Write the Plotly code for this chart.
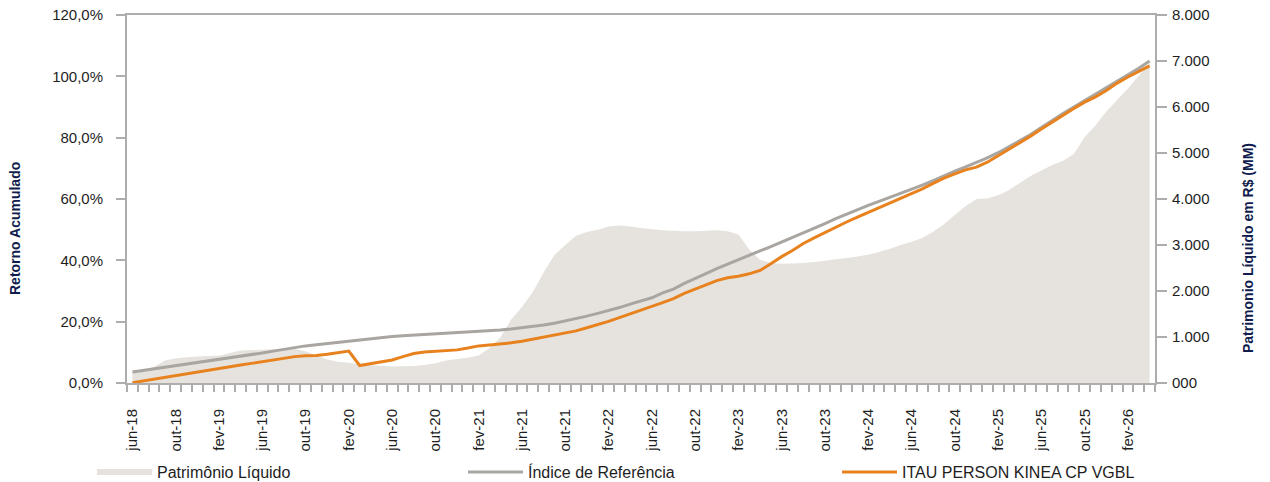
import plotly.graph_objects as go

months = [
    "jun-18", "jul-18", "ago-18", "set-18", "out-18", "nov-18", "dez-18",
    "jan-19", "fev-19", "mar-19", "abr-19", "mai-19", "jun-19", "jul-19", "ago-19", "set-19", "out-19", "nov-19", "dez-19",
    "jan-20", "fev-20", "mar-20", "abr-20", "mai-20", "jun-20", "jul-20", "ago-20", "set-20", "out-20", "nov-20", "dez-20",
    "jan-21", "fev-21", "mar-21", "abr-21", "mai-21", "jun-21", "jul-21", "ago-21", "set-21", "out-21", "nov-21", "dez-21",
    "jan-22", "fev-22", "mar-22", "abr-22", "mai-22", "jun-22", "jul-22", "ago-22", "set-22", "out-22", "nov-22", "dez-22",
    "jan-23", "fev-23", "mar-23", "abr-23", "mai-23", "jun-23", "jul-23", "ago-23", "set-23", "out-23", "nov-23", "dez-23",
    "jan-24", "fev-24", "mar-24", "abr-24", "mai-24", "jun-24", "jul-24", "ago-24", "set-24", "out-24", "nov-24", "dez-24",
    "jan-25", "fev-25", "mar-25", "abr-25", "mai-25", "jun-25", "jul-25", "ago-25", "set-25", "out-25", "nov-25", "dez-25",
    "jan-26", "fev-26", "mar-26", "abr-26",
]

tick_labels = [
    "jun-18", "out-18", "fev-19", "jun-19", "out-19", "fev-20", "jun-20", "out-20",
    "fev-21", "jun-21", "out-21", "fev-22", "jun-22", "out-22", "fev-23", "jun-23",
    "out-23", "fev-24", "jun-24", "out-24", "fev-25", "jun-25", "out-25", "fev-26",
]

# Patrimônio Líquido (R$ MM)
patrimonio = [
    220, 280, 350, 490, 540, 560, 575, 585, 595, 650,
    705, 715, 725, 735, 740, 738, 690, 600, 510, 460,
    440, 400, 385, 375, 360, 365, 370, 390, 430, 490,
    520, 550, 600, 760, 990, 1380, 1650, 1980, 2400, 2780,
    3000, 3200, 3280, 3330, 3400, 3425, 3400, 3370, 3340, 3320,
    3310, 3300, 3300, 3310, 3320, 3300, 3230, 2900, 2680, 2610,
    2595, 2600, 2610, 2630, 2660, 2690, 2720, 2750, 2790, 2850,
    2920, 3000, 3070, 3150, 3290, 3450, 3650, 3850, 4000, 4010,
    4080, 4190, 4350, 4500, 4620, 4740, 4830, 4980, 5350, 5600,
    5900, 6150, 6400, 6680, 6950,
]

# Índice de Referência (retorno acumulado, %)
indice = [
    3.6, 4.1, 4.6, 5.1, 5.6, 6.1, 6.6, 7.1, 7.6, 8.1,
    8.7, 9.2, 9.8, 10.4, 11.0, 11.6, 12.1, 12.5, 12.9, 13.3,
    13.8, 14.2, 14.5, 14.9, 15.2, 15.4, 15.6, 15.8, 16.0, 16.1,
    16.3, 16.5, 16.7, 17.0, 17.3, 17.6, 18.0, 18.4, 18.9, 19.5,
    20.2, 20.9, 21.8, 22.7, 23.6, 24.6, 25.7, 26.8, 27.8, 29.4,
    30.6, 32.5, 34.0, 35.7, 37.3, 38.8, 40.2, 41.6, 43.1, 44.5,
    46.0, 47.4, 48.8, 50.4, 52.0, 53.6, 55.1, 56.6, 57.9, 59.2,
    60.5, 61.8, 63.0, 64.5, 66.0, 67.6, 69.1, 70.5, 71.9, 73.4,
    75.1, 77.0, 79.0, 81.0, 83.3, 85.7, 87.9, 90.0, 92.1, 94.2,
    96.4, 98.6, 100.5, 102.6, 105.0,
]

# ITAU PERSON KINEA CP VGBL (retorno acumulado, %)
fundo = [
    0.1, 0.7, 1.3, 1.9, 2.5, 3.0, 3.6, 4.2, 4.7, 5.3,
    5.9, 6.4, 7.0, 7.5, 8.0, 8.6, 8.9, 9.0, 9.4, 9.9,
    10.4, 5.7, 6.3, 7.0, 7.5, 8.6, 9.6, 10.1, 10.4, 10.6,
    10.8, 11.4, 12.1, 12.4, 12.7, 13.1, 13.6, 14.3, 14.9, 15.6,
    16.2, 17.0, 18.0, 19.0, 20.1, 21.3, 22.5, 23.6, 24.8, 26.2,
    27.5, 29.2, 30.6, 32.0, 33.4, 34.3, 34.8, 35.6, 36.7, 38.9,
    41.2, 43.2, 45.5, 47.3, 49.1, 50.8, 52.5, 54.1, 55.6, 57.2,
    58.7, 60.2, 61.7, 63.3, 65.1, 66.8, 68.2, 69.5, 70.4, 72.0,
    74.1, 76.2, 78.4, 80.5, 82.8, 85.1, 87.3, 89.5, 91.6, 93.3,
    95.4, 97.8, 99.8, 101.6, 103.4,
]

pct_ticks = [0, 20, 40, 60, 80, 100, 120]
pct_tick_text = ["0,0%", "20,0%", "40,0%", "60,0%", "80,0%", "100,0%", "120,0%"]
pl_ticks = [0, 1000, 2000, 3000, 4000, 5000, 6000, 7000, 8000]
pl_tick_text = ["000", "1.000", "2.000", "3.000", "4.000", "5.000", "6.000", "7.000", "8.000"]

FONT = "Arial, Liberation Sans, sans-serif"
AXIS = "#adadad"
NAVY = "#0f1c4d"
TXT = "#1e1e1e"

W, H = 1270, 482
ML, MR, MT, MB = 127, 115, 15, 99
PW, PH = W - ML - MR, H - MT - MB

x = list(range(len(months)))
label_pos = [months.index(t) for t in tick_labels]

fig = go.Figure()
fig.add_trace(go.Scatter(
    x=x, y=patrimonio, customdata=months, yaxis="y", mode="none",
    fill="tozeroy", fillcolor="#e6e3de", name="Patrimônio Líquido",
    legend="legend", hovertemplate="%{customdata}: %{y}<extra></extra>",
))
fig.add_trace(go.Scatter(
    x=x, y=indice, customdata=months, yaxis="y2", mode="lines",
    line=dict(color="#a9a6a1", width=3), name="Índice de Referência",
    legend="legend2", hovertemplate="%{customdata}: %{y}%<extra></extra>",
))
fig.add_trace(go.Scatter(
    x=x, y=fundo, customdata=months, yaxis="y2", mode="lines",
    line=dict(color="#e8821e", width=3), name="ITAU PERSON KINEA CP VGBL",
    legend="legend3", hovertemplate="%{customdata}: %{y}%<extra></extra>",
))

leg_common = dict(orientation="h", yanchor="middle", xanchor="left",
                  xref="container", yref="container",
                  font=dict(family=FONT, size=16, color=TXT),
                  bgcolor="rgba(0,0,0,0)", itemwidth=55)
leg_y = (H - 472) / H

fig.update_layout(
    width=W, height=H,
    margin=dict(l=ML, r=MR, t=MT, b=MB, autoexpand=False),
    paper_bgcolor="white", plot_bgcolor="white",
    font=dict(family=FONT, size=15, color=TXT),
    showlegend=True,
    legend=dict(x=92 / W, y=leg_y, **leg_common),
    legend2=dict(x=463 / W, y=leg_y, **leg_common),
    legend3=dict(x=837 / W, y=leg_y, **leg_common),
    xaxis=dict(
        range=[-0.5, len(months) - 0.5], automargin=False,
        tickmode="array", tickvals=label_pos, ticktext=tick_labels,
        tickangle=-90, ticks="", ticklabelstandoff=18,
        tickfont=dict(family=FONT, size=15, color=TXT),
        minor=dict(tick0=-0.5, dtick=1, ticks="outside", ticklen=7,
                   tickcolor=AXIS, tickwidth=1.5, showgrid=False),
        showline=True, linecolor=AXIS, linewidth=2, mirror=True,
        showgrid=False, zeroline=False,
    ),
    yaxis=dict(
        range=[0, 8000], side="right", automargin=False,
        tickmode="array", tickvals=pl_ticks, ticktext=pl_tick_text,
        ticks="outside", ticklen=10, tickcolor=AXIS, tickwidth=1.5,
        ticklabelstandoff=2,
        tickfont=dict(family=FONT, size=15, color=TXT),
        showline=True, linecolor=AXIS, linewidth=2,
        showgrid=False, zeroline=False,
    ),
    yaxis2=dict(
        range=[0, 120], side="left", overlaying="y", automargin=False,
        tickmode="array", tickvals=pct_ticks, ticktext=pct_tick_text,
        ticks="outside", ticklen=9, tickcolor=AXIS, tickwidth=1.5,
        ticklabelstandoff=10,
        tickfont=dict(family=FONT, size=15, color=TXT),
        showline=True, linecolor=AXIS, linewidth=2,
        showgrid=False, zeroline=False,
    ),
    annotations=[
        dict(text="<b>Retorno Acumulado</b>", textangle=-90, xref="paper", yref="paper",
             x=(15 - ML) / PW, y=(MT + PH - 229) / PH, xanchor="center", yanchor="middle",
             showarrow=False, font=dict(family=FONT, size=14, color=NAVY)),
        dict(text="<b>Patrimonio Líquido em R$ (MM)</b>", textangle=-90, xref="paper", yref="paper",
             x=(1248 - ML) / PW, y=(MT + PH - 248) / PH, xanchor="center", yanchor="middle",
             showarrow=False, font=dict(family=FONT, size=14, color=NAVY)),
    ],
)

fig.write_html(
    "out.html",
    config={"displayModeBar": False},
    post_script="document.body.style.margin='0';document.body.style.overflow='hidden';",
)
